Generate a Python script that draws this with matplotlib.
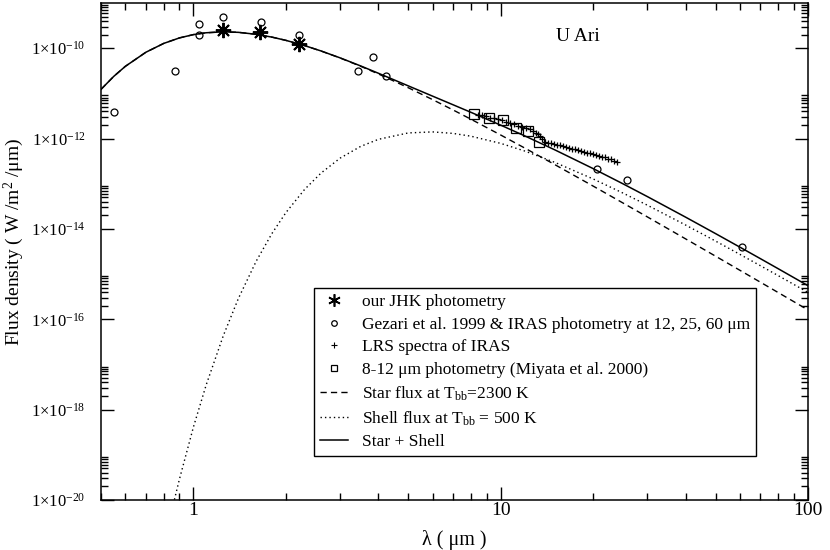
import matplotlib

matplotlib.use("Agg")
import matplotlib.pyplot as plt
from matplotlib.lines import Line2D
from matplotlib.ticker import FixedLocator, FixedFormatter, LogLocator, NullFormatter

plt.rcParams.update({
    "font.family": "serif",
    "font.serif": ["Liberation Serif", "DejaVu Serif"],
    "mathtext.fontset": "custom",
    "mathtext.rm": "Liberation Serif",
    "mathtext.it": "Liberation Serif:italic",
    "mathtext.bf": "Liberation Serif:bold",
})

# Model curves (W/m^2/um)
STAR_WL = [0.5, 0.55, 0.6, 0.7, 0.8, 0.9, 1.0, 1.1, 1.25, 1.4, 1.6, 1.8, 2.0, 2.3, 2.6,
           3.0, 3.5, 4, 5, 6, 7, 8, 10, 12, 15, 20, 25, 30, 40, 50, 60, 70, 80, 100]
STAR_FLUX = [1.225e-11, 2.373e-11, 3.962e-11, 8.132e-11, 1.275e-10, 1.688e-10, 1.999e-10,
             2.195e-10, 2.300e-10, 2.242e-10, 2.027e-10, 1.757e-10, 1.488e-10, 1.139e-10,
             8.670e-11, 6.070e-11, 3.979e-11, 2.686e-11, 1.333e-11, 7.277e-12, 4.282e-12,
             2.675e-12, 1.196e-12, 6.105e-13, 2.645e-13, 8.844e-14, 3.743e-14, 1.845e-14,
             5.995e-15, 2.495e-15, 1.216e-15, 6.615e-16, 3.900e-16, 1.610e-16]
TOTAL_FLUX = [1.225e-11, 2.373e-11, 3.962e-11, 8.132e-11, 1.275e-10, 1.688e-10, 1.999e-10,
              2.195e-10, 2.300e-10, 2.242e-10, 2.027e-10, 1.757e-10, 1.488e-10, 1.140e-10,
              8.687e-11, 6.107e-11, 4.046e-11, 2.782e-11, 1.466e-11, 8.681e-12, 5.581e-12,
              3.802e-12, 1.977e-12, 1.137e-12, 5.614e-13, 2.157e-13, 9.949e-14, 5.194e-14,
              1.814e-14, 7.883e-15, 3.953e-15, 2.195e-15, 1.314e-15, 5.539e-16]
SHELL_WL = [0.86, 0.9, 1.0, 1.1, 1.25, 1.4, 1.6, 1.8, 2.0, 2.3, 2.6, 3.0, 3.5, 4, 5, 6, 7, 8,
            10, 12, 15, 20, 25, 30, 40, 50, 60, 70, 80, 100]
SHELL_FLUX = [8.19e-21, 2.886e-20, 4.169e-19, 3.541e-18, 4.314e-17, 2.890e-16, 1.931e-15,
              7.904e-15, 2.310e-14, 7.502e-14, 1.720e-13, 3.681e-13, 6.705e-13, 9.616e-13,
              1.3315e-12, 1.4035e-12, 1.299e-12, 1.1265e-12, 7.811e-13, 5.264e-13, 2.969e-13,
              1.273e-13, 6.206e-14, 3.349e-14, 1.2147e-14, 5.388e-15, 2.737e-15, 1.533e-15,
              9.235e-16, 3.929e-16]

# Observations
JHK_WL = [1.25, 1.65, 2.21]
JHK_FLUX = [2.49e-10, 2.25e-10, 1.22e-10]

GEZARI_WL = [0.55, 0.87, 1.04, 1.04, 1.25, 1.66, 2.21, 3.43, 3.84, 4.24, 20.5, 25.7, 61.0]
GEZARI_FLUX = [3.87e-12, 3.1e-11, 3.51e-10, 2.0e-10, 5.0e-10, 3.75e-10, 1.91e-10, 3.1e-11,
               6.33e-11, 2.37e-11, 2.1e-13, 1.22e-13, 4.05e-15]

LRS_WL = [8.42, 8.68, 8.93, 9.21, 9.49, 9.78, 10.08, 10.38, 10.70, 11.03, 11.36, 11.70, 12.06,
          12.43, 12.71, 13.00, 13.20, 13.40, 13.60, 13.91, 14.23, 14.55, 14.88, 15.22, 15.56,
          15.92, 16.28, 16.65, 17.03, 17.42, 17.82, 18.22, 18.64, 19.06, 19.50, 19.94, 20.39,
          20.86, 21.33, 21.82, 22.31, 22.82, 23.34, 23.87]
LRS_FLUX = [3.40e-12, 3.24e-12, 3.08e-12, 2.92e-12, 2.78e-12, 2.64e-12, 2.51e-12, 2.32e-12,
            2.21e-12, 2.05e-12, 1.90e-12, 1.80e-12, 1.67e-12, 1.59e-12, 1.47e-12, 1.36e-12,
            1.26e-12, 1.14e-12, 1.00e-12, 8.41e-13, 8.00e-13, 7.80e-13, 7.60e-13, 7.22e-13,
            7.05e-13, 6.70e-13, 6.37e-13, 6.20e-13, 5.89e-13, 5.74e-13, 5.46e-13, 5.19e-13,
            5.06e-13, 4.81e-13, 4.69e-13, 4.46e-13, 4.35e-13, 4.13e-13, 3.93e-13, 3.83e-13,
            3.55e-13, 3.46e-13, 3.21e-13, 3.04e-13]

MIYATA_WL = [8.17, 9.16, 10.2, 11.25, 12.3, 13.3]
MIYATA_FLUX = [3.43e-12, 2.80e-12, 2.57e-12, 1.69e-12, 1.47e-12, 8.55e-13]

Y_EXPONENTS = [-20, -18, -16, -14, -12, -10]

fig = plt.figure(figsize=(8.3, 5.5), dpi=100)
ax = fig.add_axes([101 / 830, 50 / 550, 707 / 830, 497 / 550])

ax.plot(STAR_WL, STAR_FLUX, color="black", lw=1.0, ls=(0, (4.5, 3)))
ax.plot(SHELL_WL, SHELL_FLUX, color="black", lw=1.0, ls=(0, (1, 2.2)))
ax.plot(STAR_WL, TOTAL_FLUX, color="black", lw=1.1)

ax.plot(LRS_WL, LRS_FLUX, ls="none", marker="+", ms=5, mew=0.9, color="black")
ax.plot(MIYATA_WL, MIYATA_FLUX, ls="none", marker="s", ms=6.5, mfc="none", mec="black", mew=0.9)
ax.plot(GEZARI_WL, GEZARI_FLUX, ls="none", marker="o", ms=5, mfc="none", mec="black", mew=0.9)
ax.plot(JHK_WL, JHK_FLUX, ls="none", marker=(8, 2, 0), ms=11, mew=1.4, color="black")

ax.set_xscale("log")
ax.set_yscale("log")
ax.set_xlim(0.5, 100)
ax.set_ylim(1e-20, 1e-9)

ax.xaxis.set_major_locator(FixedLocator([1, 10, 100]))
ax.xaxis.set_major_formatter(FixedFormatter(["1", "10", "100"]))
ax.xaxis.set_minor_locator(LogLocator(base=10, subs=range(2, 10)))
ax.xaxis.set_minor_formatter(NullFormatter())

ax.yaxis.set_major_locator(FixedLocator([10.0 ** e for e in Y_EXPONENTS]))
ax.yaxis.set_major_formatter(FixedFormatter([r"$1{\times}10^{%d}$" % e for e in Y_EXPONENTS]))
ax.yaxis.set_minor_locator(FixedLocator([k * 10.0 ** e for e in Y_EXPONENTS for k in range(2, 10)]))
ax.yaxis.set_minor_formatter(NullFormatter())

ax.tick_params(which="both", direction="in", top=True, right=True, width=1.0)
ax.tick_params(which="major", length=9.5)
ax.tick_params(which="minor", length=5)
ax.tick_params(axis="x", which="major", labelsize=14, pad=1.5)
ax.tick_params(axis="y", which="major", labelsize=12, pad=11)
for sp in ax.spines.values():
    sp.set_linewidth(1.1)

ax.set_xlabel("λ ( μm )", fontsize=14.5, labelpad=8)
ax.set_ylabel(r"Flux density ( W /m$^{2}$ /μm)", fontsize=14)
ax.yaxis.set_label_coords(-0.106, 0.52)
ax.text(0.675, 0.932, "U Ari", transform=ax.transAxes, ha="center", va="center", fontsize=14)

handles = [
    Line2D([], [], ls="none", marker=(6, 2, 0), ms=9, mew=1.2, color="black"),
    Line2D([], [], ls="none", marker="o", ms=4, mfc="none", mec="black", mew=0.9),
    Line2D([], [], ls="none", marker="+", ms=4, mew=0.8, color="black"),
    Line2D([], [], ls="none", marker="s", ms=5, mfc="none", mec="black", mew=0.9),
    Line2D([], [], color="black", lw=1.0, ls=(0, (4.5, 3))),
    Line2D([], [], color="black", lw=1.0, ls=(0, (1, 2.2))),
    Line2D([], [], color="black", lw=1.1),
]
labels = [
    "our JHK photometry",
    "Gezari et al. 1999 & IRAS photometry at 12, 25, 60 μm",
    "LRS spectra of IRAS",
    "8-12 μm photometry (Miyata et al. 2000)",
    r"Star flux at T$_{\rm bb}$=2300 K",
    r"Shell flux at T$_{\rm bb}$ = 500 K",
    "Star + Shell",
]
leg = ax.legend(handles, labels, loc="upper left", bbox_to_anchor=(0.301, 0.4266),
                fontsize=12.5, frameon=True, fancybox=False, framealpha=1,
                handlelength=1.6, handletextpad=0.8, borderpad=0.35, labelspacing=0.37,
                borderaxespad=0)
leg.get_frame().set_edgecolor("black")
leg.get_frame().set_linewidth(1.0)

fig.savefig("out.png", dpi=100)
